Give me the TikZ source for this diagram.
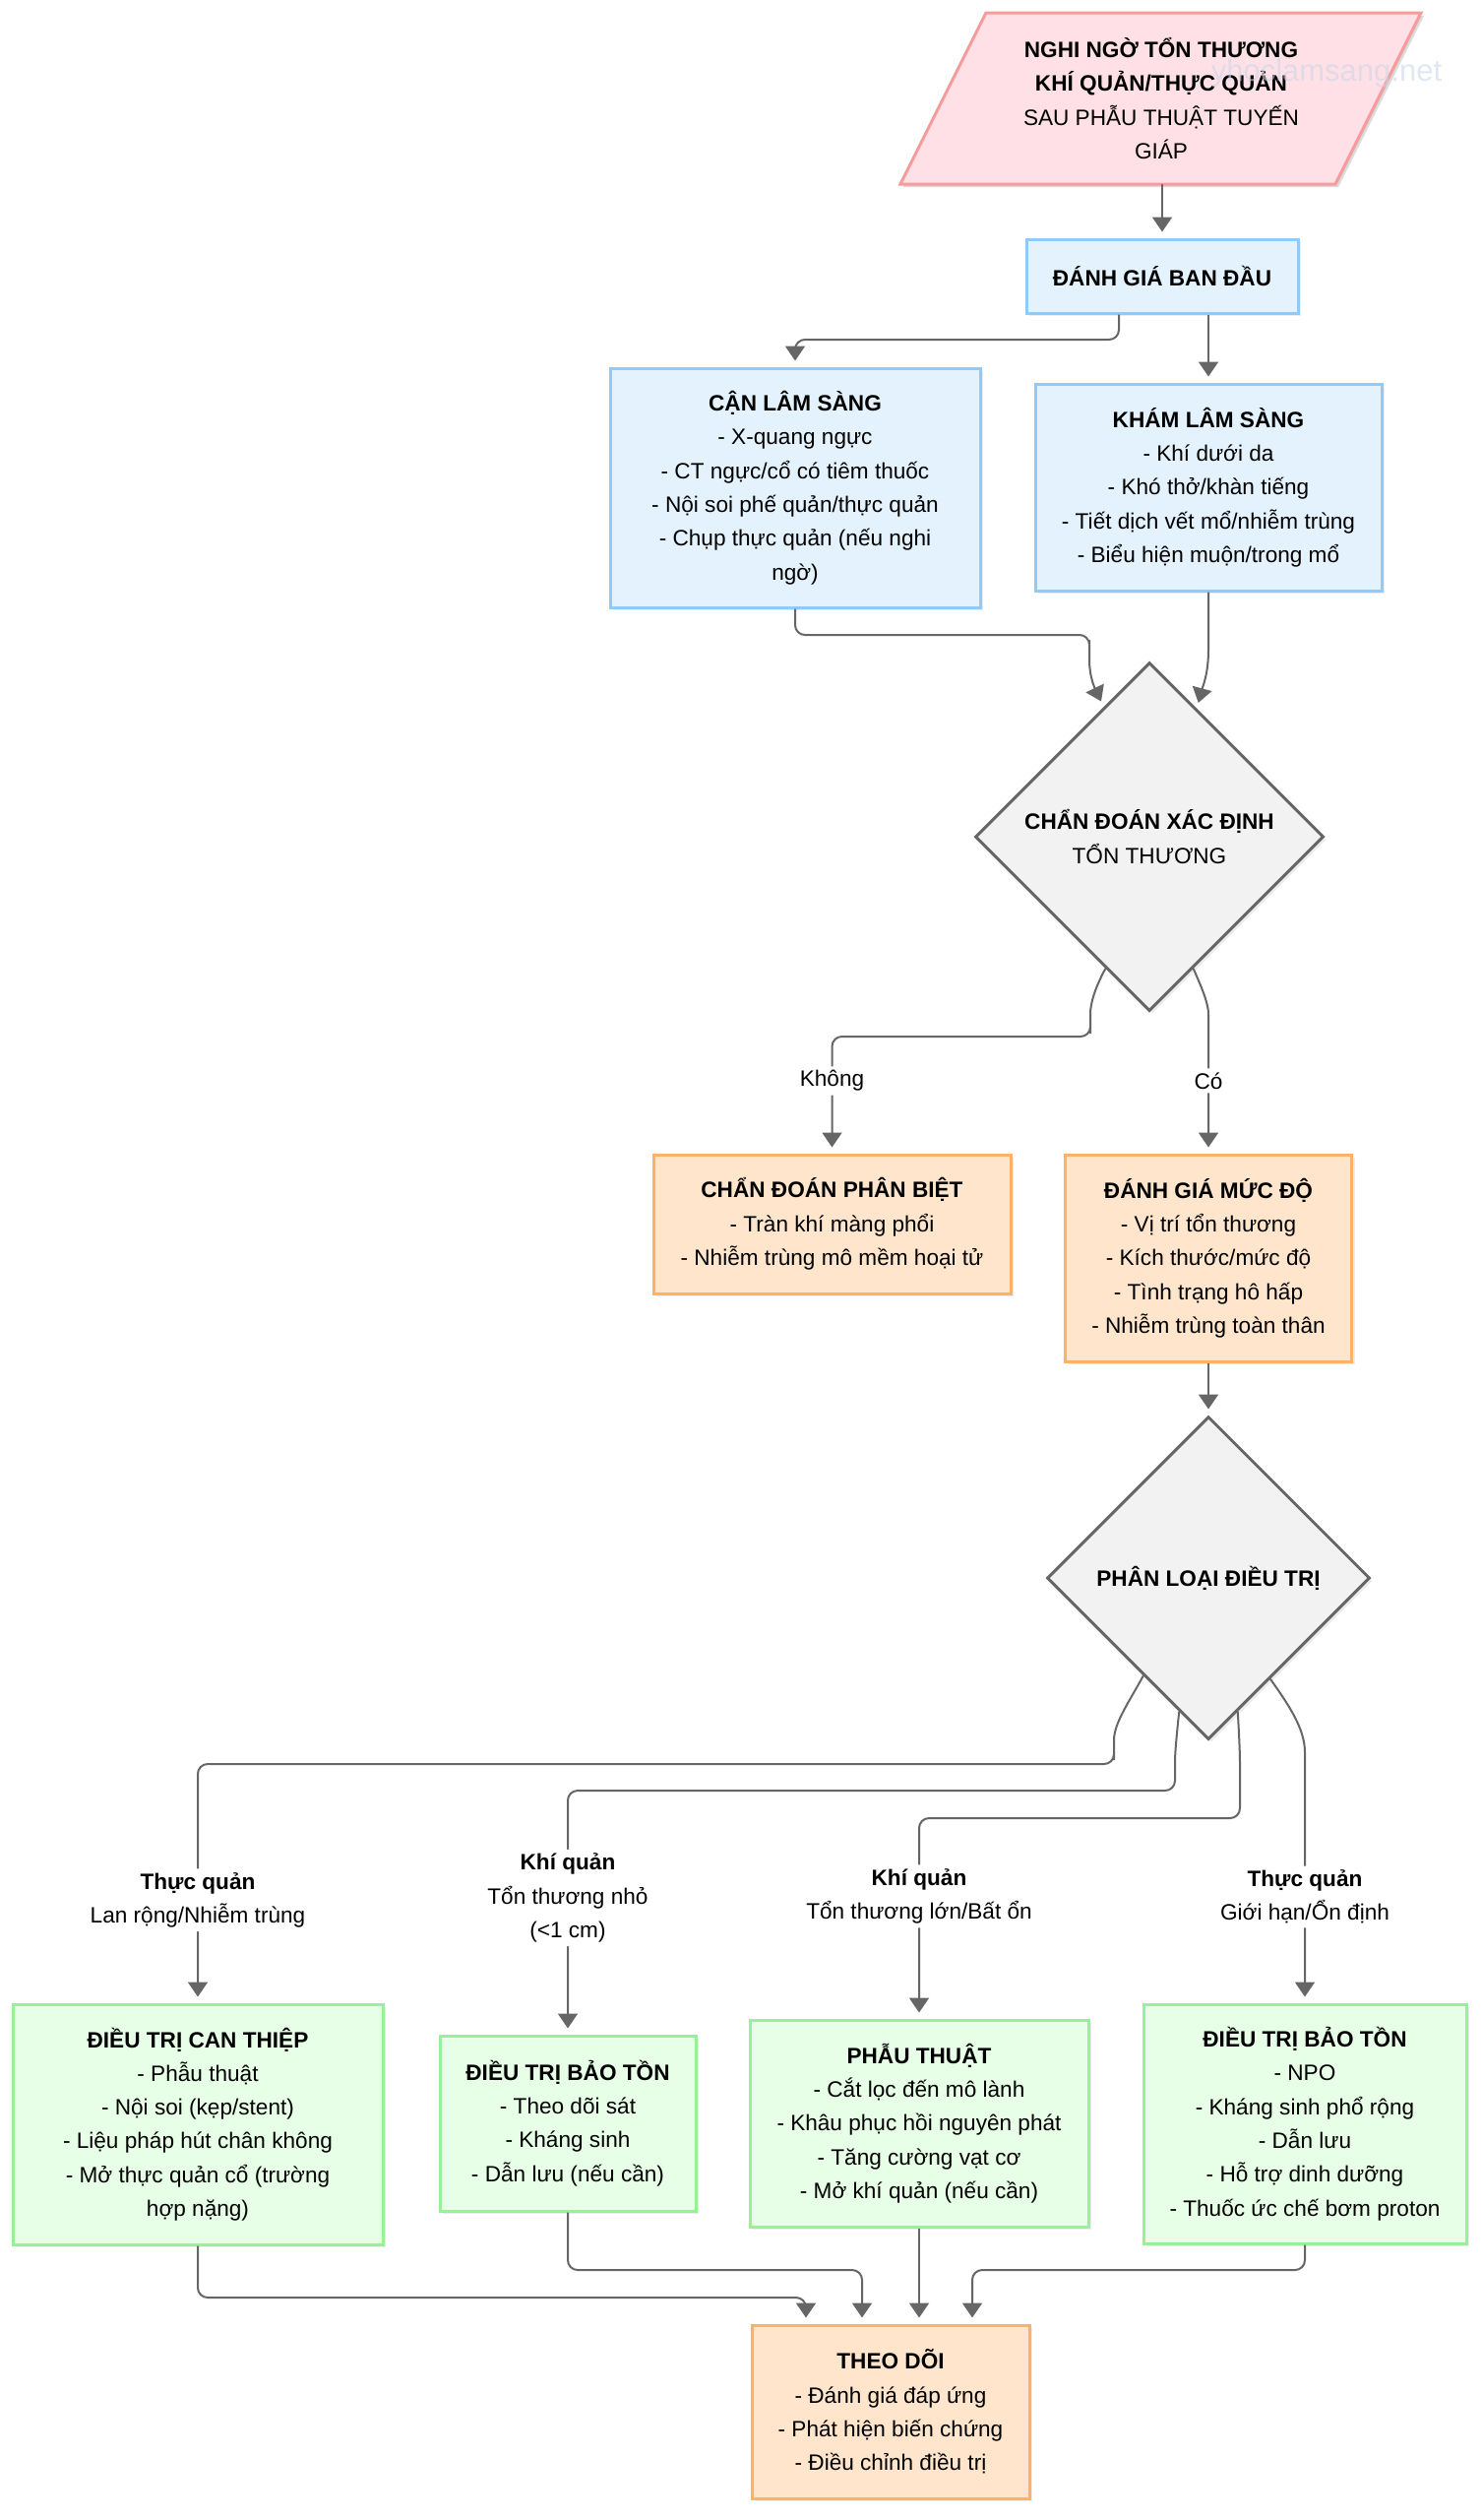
\documentclass[tikz,border=0pt]{standalone}
\usepackage{fontspec}
\setmainfont{Liberation Sans}
\usetikzlibrary{shapes.geometric,arrows.meta,shadows,calc}
\definecolor{pinkfill}{RGB}{255,224,230}
\definecolor{pinkline}{RGB}{246,156,156}
\definecolor{bluefill}{RGB}{227,242,253}
\definecolor{blueline}{RGB}{144,202,249}
\definecolor{orfill}{RGB}{255,229,204}
\definecolor{orline}{RGB}{255,178,102}
\definecolor{grfill}{RGB}{230,255,230}
\definecolor{grline}{RGB}{152,240,152}
\definecolor{decfill}{RGB}{242,242,242}
\definecolor{decline}{RGB}{102,102,102}
\definecolor{linec}{RGB}{102,102,102}
\definecolor{wmc}{RGB}{205,215,230}
\newcommand{\dfont}{\fontsize{11.3pt}{17.15pt}\selectfont}
\tikzset{
  base/.style={draw, line width=1.5pt, align=center, inner sep=0pt, font=\dfont,
    drop shadow={shadow xshift=1.5pt, shadow yshift=-1.5pt, opacity=0.15}},
  bluebox/.style={base, rectangle, fill=bluefill, draw=blueline},
  orbox/.style={base, rectangle, fill=orfill, draw=orline},
  grbox/.style={base, rectangle, fill=grfill, draw=grline},
  dec/.style={base, diamond, aspect=1, fill=decfill, draw=decline},
  conn/.style={draw=linec, line width=1pt, -{Triangle[length=7.5pt,width=10pt]},
    shorten >=3pt, rounded corners=5pt},
  lbl/.style={fill=white, align=center, inner sep=2pt, font=\dfont, text=black},
}
\begin{document}
\begin{tikzpicture}[x=0.5pt,y=-0.5pt]
\useasboundingbox (0,0) rectangle (1505,2560);
\fill[white] (0,0) rectangle (1505,2560);

% start parallelogram
\fill[black, opacity=0.15] (1005,16) -- (1447,16) -- (1360,190) -- (918,190) -- cycle;
\draw[pinkline, fill=pinkfill, line width=1.5pt] (1002,13) -- (1444,13) -- (1357,187) -- (915,187) -- cycle;
\node[align=center, font=\dfont, inner sep=0pt] (start) at (1180,100)
  {\textbf{NGHI NGỜ TỔN THƯƠNG}\\\textbf{KHÍ QUẢN/THỰC QUẢN}\\SAU PHẪU THUẬT TUYẾN\\GIÁP};
\node[text=wmc, opacity=0.6, font=\fontsize{15.5pt}{18pt}\selectfont, inner sep=0pt] (wm) at (1348,74) {yhoclamsang.net};
\coordinate (startb) at (1181,187);

\node[bluebox, minimum width=138pt, minimum height=37.5pt] (dg) at (1181,280.5) {\textbf{ĐÁNH GIÁ BAN ĐẦU}};
\node[bluebox, minimum width=188pt, minimum height=121.5pt] (cls) at (808,495.5)
  {\textbf{CẬN LÂM SÀNG}\\- X-quang ngực\\- CT ngực/cổ có tiêm thuốc\\- Nội soi phế quản/thực quản\\- Chụp thực quản (nếu nghi\\ngờ)};
\node[bluebox, minimum width=176pt, minimum height=105pt] (kls) at (1228,495)
  {\textbf{KHÁM LÂM SÀNG}\\- Khí dưới da\\- Khó thở/khàn tiếng\\- Tiết dịch vết mổ/nhiễm trùng\\- Biểu hiện muộn/trong mổ};
\node[dec, minimum width=177pt, minimum height=177pt] (d1) at (1168,850)
  {\textbf{CHẨN ĐOÁN XÁC ĐỊNH}\\TỔN THƯƠNG};
\node[orbox, minimum width=181.5pt, minimum height=70.5pt] (cdpb) at (845.5,1243.5)
  {\textbf{CHẨN ĐOÁN PHÂN BIỆT}\\- Tràn khí màng phổi\\- Nhiễm trùng mô mềm hoại tử};
\node[orbox, minimum width=145.5pt, minimum height=105pt] (dgm) at (1228,1278)
  {\textbf{ĐÁNH GIÁ MỨC ĐỘ}\\- Vị trí tổn thương\\- Kích thước/mức độ\\- Tình trạng hô hấp\\- Nhiễm trùng toàn thân};
\node[dec, minimum width=164pt, minimum height=164pt] (d2) at (1228,1603)
  {\textbf{PHÂN LOẠI ĐIỀU TRỊ}};
\node[grbox, minimum width=188pt, minimum height=122pt] (can) at (201,2158)
  {\textbf{ĐIỀU TRỊ CAN THIỆP}\\- Phẫu thuật\\- Nội soi (kẹp/stent)\\- Liệu pháp hút chân không\\- Mở thực quản cổ (trường\\hợp nặng)};
\node[grbox, minimum width=130pt, minimum height=89pt] (bts) at (577,2157)
  {\textbf{ĐIỀU TRỊ BẢO TỒN}\\- Theo dõi sát\\- Kháng sinh\\- Dẫn lưu (nếu cần)};
\node[grbox, minimum width=172pt, minimum height=105pt] (pt) at (934,2157)
  {\textbf{PHẪU THUẬT}\\- Cắt lọc đến mô lành\\- Khâu phục hồi nguyên phát\\- Tăng cường vạt cơ\\- Mở khí quản (nếu cần)};
\node[grbox, minimum width=164pt, minimum height=121.5pt] (btb) at (1326,2157.5)
  {\textbf{ĐIỀU TRỊ BẢO TỒN}\\- NPO\\- Kháng sinh phổ rộng\\- Dẫn lưu\\- Hỗ trợ dinh dưỡng\\- Thuốc ức chế bơm proton};
\node[orbox, minimum width=141pt, minimum height=88pt] (theo) at (905,2450)
  {\textbf{THEO DÕI}\\- Đánh giá đáp ứng\\- Phát hiện biến chứng\\- Điều chỉnh điều trị};

% connectors
\draw[conn] (dg.north |- startb) -- (dg.north);
\draw[conn] (dg.south -| 1137,0) -- (1137,345) -- (cls.north |- 0,345) -- (cls.north);
\draw[conn] (dg.south -| kls.north) -- (kls.north);
\draw[conn] (cls.south) -- (cls.south |- 0,645) -- (1107,645) -- (1107,660)
  .. controls (1107,690) and (1114,702) .. ($(d1.north)!0.26!(d1.west)$);
\draw[conn] (kls.south) -- (1228,650)
  .. controls (1228,685) and (1222,698) .. ($(d1.north)!0.27!(d1.east)$);
\draw[conn] ($(d1.south)!0.25!(d1.west)$) .. controls (1112,1005) and (1108,1020) .. (1108,1040)
  -- (1108,1053) -- (cdpb.north |- 0,1053) -- node[lbl,pos=0.38]{Không} (cdpb.north);
\draw[conn] ($(d1.south)!0.25!(d1.east)$) .. controls (1222,1005) and (1228,1020) .. (dgm.north |- 0,1040)
  -- node[lbl,pos=0.44]{Có} (dgm.north);
\draw[conn] (dgm.south) -- (d2.north);

\draw[conn] ($(d2.south)!0.4!(d2.west)$) .. controls (1148,1728) and (1132,1750) .. (1132,1778)
  -- (1132,1792) -- (can.north |- 0,1792) -- node[lbl,pos=0.57]{\textbf{Thực quản}\\Lan rộng/Nhiễm trùng} (can.north);
\draw[conn] ($(d2.south)!0.18!(d2.west)$) .. controls (1196,1760) and (1194,1780) .. (1194,1800)
  -- (1194,1819) -- (bts.north |- 0,1819) -- node[lbl,pos=0.44]{\textbf{Khí quản}\\Tổn thương nhỏ\\(<1 cm)} (bts.north);
\draw[conn] ($(d2.south)!0.18!(d2.east)$) .. controls (1259,1760) and (1260,1780) .. (1260,1800)
  -- (1260,1847) -- (pt.north |- 0,1847) -- node[lbl,pos=0.39]{\textbf{Khí quản}\\Tổn thương lớn/Bất ổn} (pt.north);
\draw[conn] ($(d2.south)!0.38!(d2.east)$) .. controls (1308,1730) and (1326,1755) .. (btb.north |- 0,1790)
  -- node[lbl,pos=0.56]{\textbf{Thực quản}\\Giới hạn/Ổn định} (btb.north);

\coordinate (t1) at ($(theo.north)+(-86,0)$);
\coordinate (t2) at ($(theo.north)+(-29,0)$);
\coordinate (t4) at ($(theo.north)+(83,0)$);
\draw[conn] (can.south) -- (can.south |- 0,2334) -- (t1 |- 0,2334) -- (t1);
\draw[conn] (bts.south) -- (bts.south |- 0,2306) -- (t2 |- 0,2306) -- (t2);
\draw[conn] (pt.south) -- (pt.south |- theo.north);
\draw[conn] (btb.south) -- (btb.south |- 0,2306) -- (t4 |- 0,2306) -- (t4);
\end{tikzpicture}
\end{document}
